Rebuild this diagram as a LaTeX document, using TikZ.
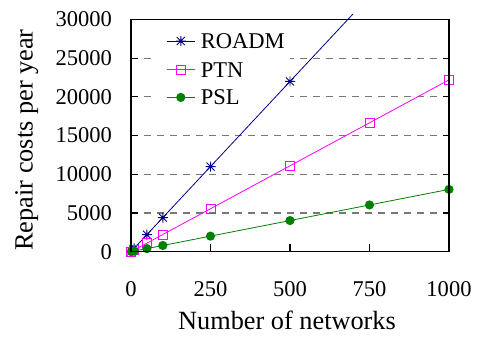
\documentclass[tikz,border=0pt]{standalone}
\usepackage{fontspec}
\setmainfont{Liberation Serif}
\newfontfamily\plotfont{Liberation Serif}
\definecolor{roadmcol}{RGB}{0,0,139}
\definecolor{ptncol}{RGB}{255,0,255}
\definecolor{pslcol}{RGB}{0,128,0}
\definecolor{gridcol}{RGB}{120,120,120}
\begin{document}
\begin{tikzpicture}[x=1bp,y=1bp,
  ticklab/.style={font=\plotfont\fontsize{22.6}{26}\selectfont, inner sep=0pt},
  axlab/.style={font=\plotfont\fontsize{26.4}{30}\selectfont, inner sep=0pt},
  gridline/.style={draw=gridcol, line width=1.2bp, dash pattern=on 7bp off 6bp},
  frame/.style={line width=1.1bp, black},
  roadmline/.style={draw=roadmcol, line width=0.8bp},
  ptnline/.style={draw=ptncol, line width=0.8bp},
  pslline/.style={draw=pslcol, line width=0.8bp},
  starmk/.pic={\draw[roadmcol, line width=0.9bp]
      (-4bp,-4bp) -- (4bp,4bp) (-4bp,4bp) -- (4bp,-4bp)
      (0,-5bp) -- (0,5bp) (-5bp,0) -- (5bp,0);},
  sqmk/.pic={\draw[ptncol, line width=0.9bp] (-4.5bp,-4.5bp) rectangle (4.5bp,4.5bp);},
  dotmk/.pic={\fill[pslcol] (0,0) circle[radius=4.6bp];}
]
\useasboundingbox (0,0) rectangle (478,336);

% plot area: networks on x, cost (in thousands) on y
\begin{scope}[shift={(131,84.3)}, x=0.318bp, y=7.74bp]
  % horizontal grid
  \foreach \v in {5,10,...,25}
    \draw[gridline] (0,\v) -- (1000,\v);
\end{scope}

% key area keeps the grid clear
\fill[white] (153.5,225) rectangle (289.5,310);

\begin{scope}[shift={(131,84.3)}, x=0.318bp, y=7.74bp]
  % tick marks
  \foreach \v in {5,10,...,25}
    \draw[frame] (0,\v) -- ++(6.5bp,0) (1000,\v) -- ++(-6.5bp,0);
  \foreach \n in {250,500,750}
    \draw[frame] (\n,0) -- ++(0,7.5bp);

  % tick labels
  \foreach \v/\lab in {0/0,5/5000,10/10000,15/15000,20/20000,25/25000,30/30000}
    \node[ticklab, anchor=east] (yt\v) at ([xshift=-19bp]0,\v) {\lab};
  \foreach \n in {0,250,500,750,1000}
    \node[ticklab] (xt\n) at ([yshift=-37.3bp]\n,0) {\n};

  % ROADM
  \draw[roadmline] (1,0.044) -- (10,0.44) -- (50,2.2) -- (100,4.4)
    -- (250,11) -- (500,22) -- (698,30.71);
  \foreach \n/\v in {1/0.044,10/0.44,50/2.2,100/4.4,250/11,500/22}
    \pic at (\n,\v) {starmk};

  % PTN
  \draw[ptnline] (1,0.0222) -- (10,0.222) -- (50,1.11) -- (100,2.22)
    -- (250,5.55) -- (500,11.1) -- (750,16.65) -- (1000,22.2);
  \foreach \n/\v in {1/0.0222,10/0.222,50/1.11,100/2.22,250/5.55,500/11.1,750/16.65,1000/22.2}
    \pic at (\n,\v) {sqmk};

  % PSL
  \draw[pslline] (1,0.00805) -- (10,0.0805) -- (50,0.4025) -- (100,0.805)
    -- (250,2.0125) -- (500,4.025) -- (750,6.04) -- (1000,8.05);
  \foreach \n/\v in {1/0.00805,10/0.0805,50/0.4025,100/0.805,250/2.0125,500/4.025,750/6.04,1000/8.05}
    \pic at (\n,\v) {dotmk};

  % frame
  \draw[frame] (0,0) rectangle (1000,30);
\end{scope}

% key
\draw[roadmline] (166.7,295) -- (195,295);
\pic at (180.8,295) {starmk};
\node[ticklab, anchor=west] (keyroadm) at (200.7,295) {ROADM};
\draw[ptnline] (166.7,266.2) -- (195,266.2);
\pic at (180.8,266.2) {sqmk};
\node[ticklab, anchor=west] (keyptn) at (200.7,266.2) {PTN};
\draw[pslline] (166.7,238.6) -- (195,238.6);
\pic at (180.8,238.6) {dotmk};
\node[ticklab, anchor=west] (keypsl) at (200.7,238.6) {PSL};

% axis titles
\node[axlab, anchor=base] (xlabel) at (287,7) {Number of networks};
\node[axlab, rotate=90, anchor=base] (ylabel) at (32.5,196) {Repair costs per year};
\end{tikzpicture}
\end{document}
